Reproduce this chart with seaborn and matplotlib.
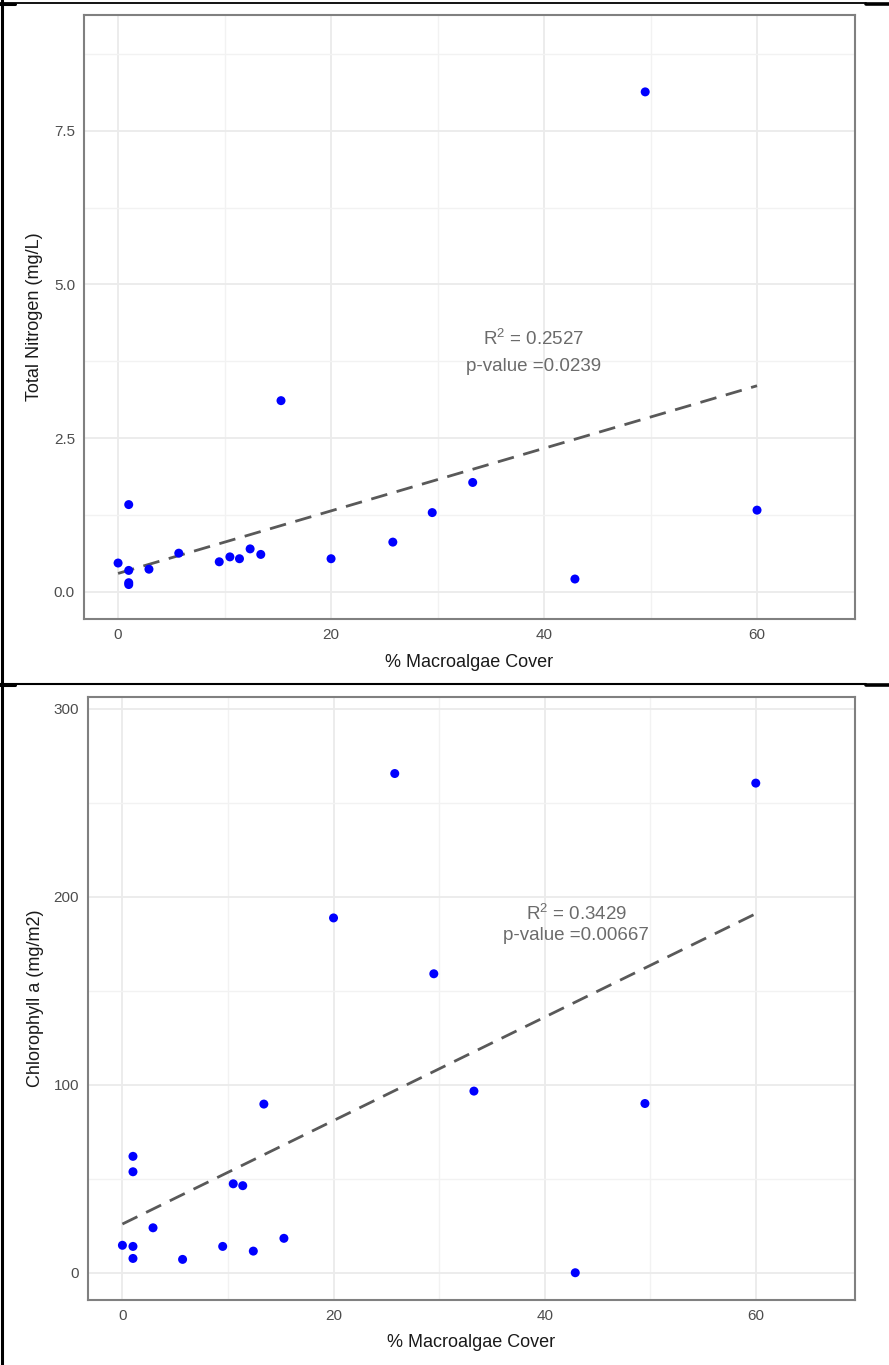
import numpy as np
import pandas as pd
import matplotlib
matplotlib.use('Agg')
import matplotlib.pyplot as plt
from matplotlib.lines import Line2D
from matplotlib.ticker import MultipleLocator
import seaborn as sns

# % macroalgae cover (same sites in both panels)
cover = [0, 1, 1, 1, 1, 2.9, 5.7, 9.5, 10.5, 11.4, 12.4, 13.4, 15.3, 20,
         25.8, 29.5, 33.3, 42.9, 49.5, 60]
# total nitrogen (mg/L)
nitrogen = [0.47, 1.42, 0.35, 0.15, 0.12, 0.37, 0.63, 0.49, 0.57, 0.54,
            0.70, 0.61, 3.11, 0.54, 0.81, 1.29, 1.78, 0.21, 8.13, 1.33]
# chlorophyll a (mg/m2)
chl = [14.6, 61.9, 53.7, 14.0, 7.6, 23.9, 7.1, 14.0, 47.3, 46.3,
       11.5, 89.7, 18.3, 188.7, 265.5, 159.0, 96.6, 0.0, 90.0, 260.4]

x_ticks = [0, 20, 40, 60]
tn_ticks = [0.0, 2.5, 5.0, 7.5]
chl_ticks = [0, 100, 200, 300]

stats_tn = ['R$^2$ = 0.2527', 'p-value =0.0239']
stats_chl = ['R$^2$ = 0.3429', 'p-value =0.00667']

df = pd.DataFrame({'cover': cover, 'tn': nitrogen, 'chl': chl})

sns.set_style('white')
plt.rcParams['font.family'] = ['Liberation Sans', 'DejaVu Sans']
plt.rcParams['mathtext.fontset'] = 'custom'
plt.rcParams['mathtext.rm'] = 'Liberation Sans'
plt.rcParams['mathtext.default'] = 'regular'

fig = plt.figure(figsize=(8.89, 13.65), dpi=100)
W, H = 889, 1365


def px_axes(left, top, right, bottom):
    return fig.add_axes([left / W, 1 - bottom / H, (right - left) / W, (bottom - top) / H])


ax1 = px_axes(84, 15, 855, 619)
ax2 = px_axes(88, 697, 855, 1300)

panels = [
    (ax1, 'tn', 'Total Nitrogen (mg/L)', tn_ticks, (-3.2, 69.2), (-0.44, 9.38), 1.25,
     stats_tn, (39, 4.12), (39, 3.66), '{:.1f}', -0.053, -0.058),
    (ax2, 'chl', 'Chlorophyll a (mg/m2)', chl_ticks, (-3.26, 69.4), (-14.5, 306.2), 50,
     stats_chl, (43, 191), (43, 179.5), '{:.0f}', -0.058, -0.056),
]

for ax, col, ylab, yt, xl, yl, yminor, stats, p1, p2, fmt, ylx, xly in panels:
    ax.set_axisbelow(True)
    ax.xaxis.set_minor_locator(MultipleLocator(10))
    ax.yaxis.set_minor_locator(MultipleLocator(yminor))
    ax.grid(which='major', color='#EBEBEB', lw=1.3)
    ax.grid(which='minor', color='#F2F2F2', lw=1.0)
    ax.tick_params(which='minor', length=0)

    sns.regplot(data=df, x='cover', y=col, ax=ax, scatter=False, ci=None,
                line_kws=dict(color='#595959', lw=2.0, linestyle=(0, (6, 3.5))))
    sns.scatterplot(data=df, x='cover', y=col, ax=ax, color='#0000FF', s=42,
                    edgecolor='none', zorder=3)

    ax.set_xlim(*xl)
    ax.set_ylim(*yl)
    ax.set_xticks(x_ticks)
    ax.set_yticks(yt)
    ax.set_yticklabels([fmt.format(v) for v in yt])
    ax.tick_params(which='major', length=3.5, width=1, color='#333333',
                   labelcolor='#4D4D4D', labelsize=11, pad=3)
    for s in ax.spines.values():
        s.set_color('#808080')
        s.set_linewidth(1.5)

    ax.set_xlabel('% Macroalgae Cover', fontsize=13, color='#1A1A1A')
    ax.set_ylabel(ylab, fontsize=13, color='#1A1A1A')
    ax.xaxis.set_label_coords(0.5, xly)
    ax.yaxis.set_label_coords(ylx, 0.5)

    ax.text(p1[0], p1[1], stats[0], ha='center', va='center', fontsize=13.5, color='#6B6B6B')
    ax.text(p2[0], p2[1], stats[1], ha='center', va='center', fontsize=13.5, color='#6B6B6B')

# table-like border around the two cells
def hline(y, x0, x1, lw):
    fig.add_artist(Line2D([x0 / W, x1 / W], [1 - y / H, 1 - y / H], color='black', lw=lw))

fig.add_artist(Line2D([1.5 / W, 1.5 / W], [0, 1], color='black', lw=2.2))
hline(2.5, 0, 866, 1.3)
hline(3.5, 866, 889, 2.6)
hline(4, 0, 15, 2.2)
hline(684, 0, 866, 1.5)
hline(685, 866, 889, 2.6)
hline(685, 0, 15, 2.2)

fig.savefig('out.png', dpi=100)
